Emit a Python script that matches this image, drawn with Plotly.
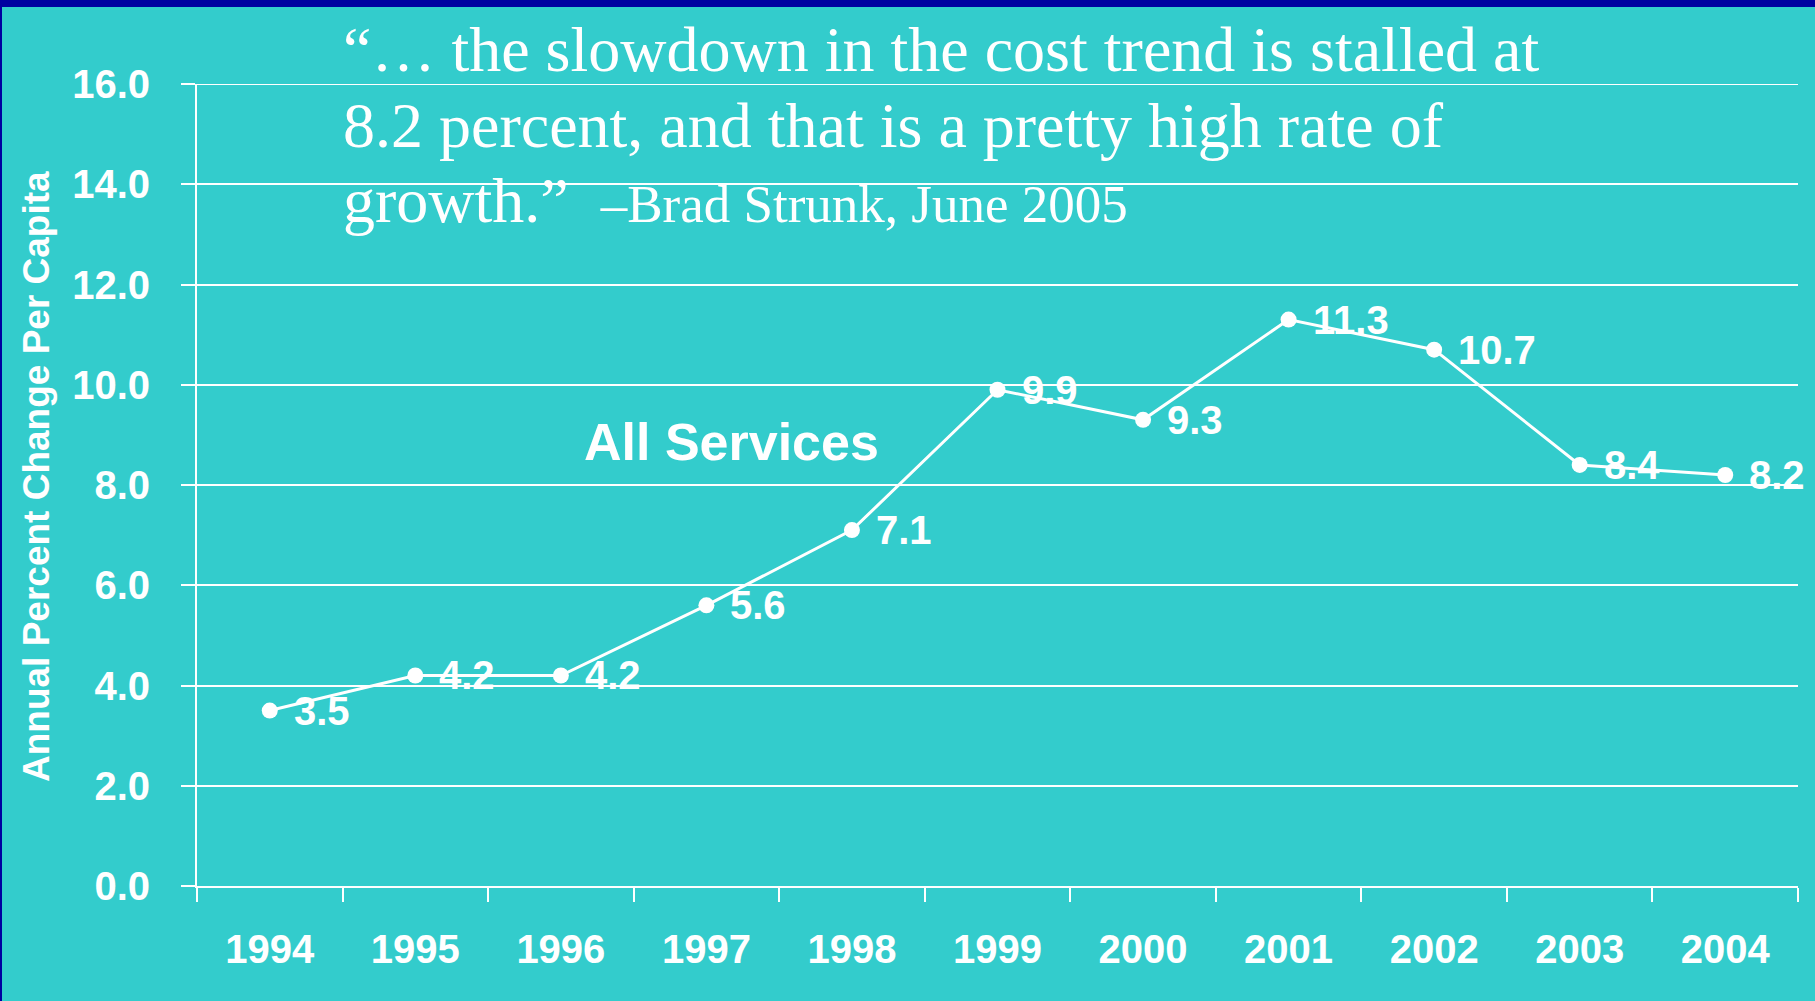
import plotly.graph_objects as go

# Annual percent change in per-capita spending, all services
years = ["1994", "1995", "1996", "1997", "1998", "1999", "2000", "2001", "2002", "2003", "2004"]
pct_change = [3.5, 4.2, 4.2, 5.6, 7.1, 9.9, 9.3, 11.3, 10.7, 8.4, 8.2]
y_ticks = [0, 2, 4, 6, 8, 10, 12, 14, 16]

quote_lines = [
    "\u201c\u2026 the slowdown in the cost trend is stalled at",
    "8.2 percent, and that is a pretty high rate of",
    "growth.\u201d",
]
attribution = "\u2013Brad Strunk, June 2005"
series_label = "All Services"
y_title = "Annual Percent Change Per Capita"

W, H = 1815, 1001
L, R, T, B = 197, 1798, 84, 886  # plot area in pixels

BG = "#33CCCC"
FRAME = "#0000A0"
WHITE = "#FFFFFF"
SANS = "Liberation Sans, Arial, sans-serif"
SERIF = "Liberation Serif, Times New Roman, serif"


def px_x(p):
    return (p - L) / (R - L)


def px_y(p):
    return (B - p) / (B - T)


fig = go.Figure()
fig.add_trace(go.Scatter(
    x=years, y=pct_change, mode="lines+markers",
    line=dict(color=WHITE, width=3),
    marker=dict(color=WHITE, size=16),
    cliponaxis=False, hoverinfo="skip", showlegend=False,
))

annotations = []
# value labels beside each point (category index used as x position)
for i, v in enumerate(pct_change):
    annotations.append(dict(
        x=i, y=v, xref="x", yref="y", text=f"{v:.1f}", showarrow=False,
        xanchor="left", yanchor="middle", xshift=22,
        font=dict(family=SANS, size=40, color=WHITE, weight="bold"),
    ))

# series name
annotations.append(dict(
    x=px_x(731), y=px_y(442), xref="paper", yref="paper", text=series_label,
    showarrow=False, xanchor="center", yanchor="middle",
    font=dict(family=SANS, size=52, color=WHITE, weight="bold"),
))

# rotated axis title
annotations.append(dict(
    x=px_x(37), y=px_y(477), xref="paper", yref="paper", text=y_title,
    showarrow=False, textangle=-90, xanchor="center", yanchor="middle",
    font=dict(family=SANS, size=37, color=WHITE, weight="bold"),
))

# quotation, one annotation per line
line_centers = [49, 126, 201]
for i, (line, cy) in enumerate(zip(quote_lines, line_centers)):
    txt = line
    if i == len(quote_lines) - 1:
        txt = line + "\u00a0\u00a0" + f"<span style='font-size:53px'>{attribution}</span>"
    annotations.append(dict(
        x=px_x(341), y=px_y(cy), xref="paper", yref="paper", text=txt,
        showarrow=False, xanchor="left", yanchor="middle",
        font=dict(family=SERIF, size=64, color=WHITE),
    ))

shapes = [
    # top gridline at the upper end of the range
    dict(type="line", xref="paper", yref="y", x0=0, x1=1, y0=y_ticks[-1], y1=y_ticks[-1],
         line=dict(color=WHITE, width=2), layer="below"),
    # dark frame along the top and left edges
    dict(type="rect", xref="paper", yref="paper",
         x0=px_x(0), x1=px_x(W), y0=px_y(7), y1=px_y(0),
         fillcolor=FRAME, line=dict(width=0), layer="above"),
    dict(type="rect", xref="paper", yref="paper",
         x0=px_x(0), x1=px_x(2), y0=px_y(H), y1=px_y(0),
         fillcolor=FRAME, line=dict(width=0), layer="above"),
]

fig.update_layout(
    width=W, height=H,
    margin=dict(l=L, r=W - R, t=T, b=H - B, pad=0),
    paper_bgcolor=BG, plot_bgcolor=BG,
    annotations=annotations, shapes=shapes,
    showlegend=False,
    xaxis=dict(
        type="category", range=[-0.5, len(years) - 0.5],
        showgrid=False, zeroline=False,
        showline=True, linecolor=WHITE, linewidth=2,
        ticks="outside", tickson="boundaries", ticklen=14, tickwidth=2, tickcolor=WHITE,
        tickfont=dict(family=SANS, size=40, color=WHITE, weight="bold"),
        ticklabelstandoff=27,
        fixedrange=True,
    ),
    yaxis=dict(
        range=[0, 16], tickvals=y_ticks, tickformat=".1f",
        showgrid=True, gridcolor=WHITE, gridwidth=2,
        zeroline=True, zerolinecolor=WHITE, zerolinewidth=2,
        showline=True, linecolor=WHITE, linewidth=2,
        ticks="outside", ticklen=14, tickwidth=2, tickcolor=WHITE,
        tickfont=dict(family=SANS, size=40, color=WHITE, weight="bold"),
        ticklabelstandoff=23,
        fixedrange=True,
    ),
)

fig.write_html("out.html")
